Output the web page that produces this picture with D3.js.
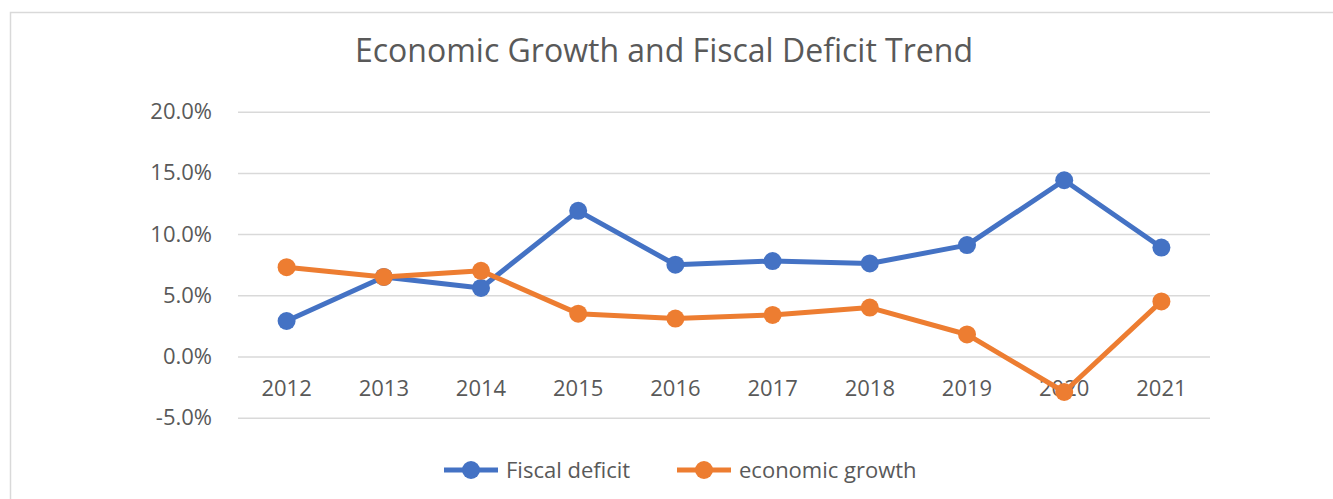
<!DOCTYPE html>
<html>
<head>
<meta charset="utf-8">
<script src="https://cdnjs.cloudflare.com/ajax/libs/d3/7.8.5/d3.min.js"></script>
<style>
  html, body { margin: 0; padding: 0; background: #fff; }
  svg { display: block; }
  text { font-family: "Open Sans", sans-serif; fill: #595959; }
</style>
</head>
<body>
<svg id="chart" width="1333" height="499"></svg>
<script>
// Years on the category axis
const years = ["2012", "2013", "2014", "2015", "2016", "2017", "2018", "2019", "2020", "2021"];
// Fiscal deficit, % of GDP
const fiscalDeficit = [2.9, 6.5, 5.6, 11.9, 7.5, 7.8, 7.6, 9.1, 14.4, 8.9];
// Economic growth, %
const economicGrowth = [7.3, 6.5, 7.0, 3.5, 3.1, 3.4, 4.0, 1.8, -2.9, 4.5];
// Value axis ticks
const yTicks = [-5, 0, 5, 10, 15, 20];

const series = [
  { name: "Fiscal deficit", values: fiscalDeficit, color: "#4472C4" },
  { name: "economic growth", values: economicGrowth, color: "#ED7D31" }
];

const FONT = "'Open Sans', sans-serif";
const LABEL_SIZE = "22px";
const MARKER_R = 9;
const svg = d3.select("#chart");

// Chart frame
svg.append("rect")
  .attr("x", 10.5).attr("y", 12.5)
  .attr("width", 1400).attr("height", 600)
  .attr("fill", "#fff")
  .attr("stroke", "#d9d9d9")
  .attr("stroke-width", 1.5);

// Title
svg.append("text")
  .attr("x", 664).attr("y", 62)
  .attr("text-anchor", "middle")
  .style("font-size", "32px")
  .text("Economic Growth and Fiscal Deficit Trend");

const plot = { left: 238, right: 1210 };

const x = d3.scaleBand().domain(years).range([plot.left, plot.right]);
const y = d3.scaleLinear().domain([-5, 20]).range([417.7, 111.7]);

// Horizontal gridlines
svg.append("g")
  .attr("transform", `translate(${plot.left},0)`)
  .call(d3.axisLeft(y).tickValues(yTicks).tickSize(-(plot.right - plot.left)).tickFormat(""))
  .call(g => g.select(".domain").remove())
  .call(g => g.selectAll("line").attr("stroke", "#d9d9d9").attr("stroke-width", 1.5));

// Value axis labels (plain hyphen for negatives)
const pct = d => d3.format(".1f")(d).replace("\u2212", "-") + "%";
svg.append("g")
  .attr("transform", "translate(212,0)")
  .call(d3.axisLeft(y).tickValues(yTicks).tickSize(0).tickPadding(0).tickFormat(pct))
  .call(g => g.select(".domain").remove())
  .call(g => g.selectAll("text")
    .style("font-size", LABEL_SIZE)
    .style("font-family", FONT)
    .attr("fill", "#595959"));

// Category labels, sitting just below the 0% line
svg.append("g")
  .attr("transform", `translate(0,${y(0)})`)
  .call(d3.axisBottom(x).tickSize(0).tickPadding(24))
  .call(g => g.select(".domain").remove())
  .call(g => g.selectAll("text")
    .style("font-size", LABEL_SIZE)
    .style("font-family", FONT)
    .attr("fill", "#595959"));

const cx = d => x(d) + x.bandwidth() / 2;

const line = d3.line()
  .x((d, i) => cx(years[i]))
  .y(d => y(d));

series.forEach(s => {
  const g = svg.append("g");
  g.append("path")
    .datum(s.values)
    .attr("fill", "none")
    .attr("stroke", s.color)
    .attr("stroke-width", 5)
    .attr("stroke-linejoin", "round")
    .attr("d", line);
  g.selectAll("circle")
    .data(s.values)
    .join("circle")
    .attr("cx", (d, i) => cx(years[i]))
    .attr("cy", d => y(d))
    .attr("r", MARKER_R)
    .attr("fill", s.color);
});

// Legend
const legendItems = [
  { s: series[0], x0: 444 },
  { s: series[1], x0: 677 }
];
legendItems.forEach(({ s, x0 }) => {
  const g = svg.append("g").attr("transform", `translate(${x0},470)`);
  g.append("line")
    .attr("x1", 0).attr("x2", 54)
    .attr("stroke", s.color).attr("stroke-width", 5);
  g.append("circle").attr("cx", 27).attr("r", MARKER_R).attr("fill", s.color);
  g.append("text")
    .attr("x", 62).attr("y", 8)
    .style("font-size", LABEL_SIZE)
    .text(s.name);
});
</script>
</body>
</html>
